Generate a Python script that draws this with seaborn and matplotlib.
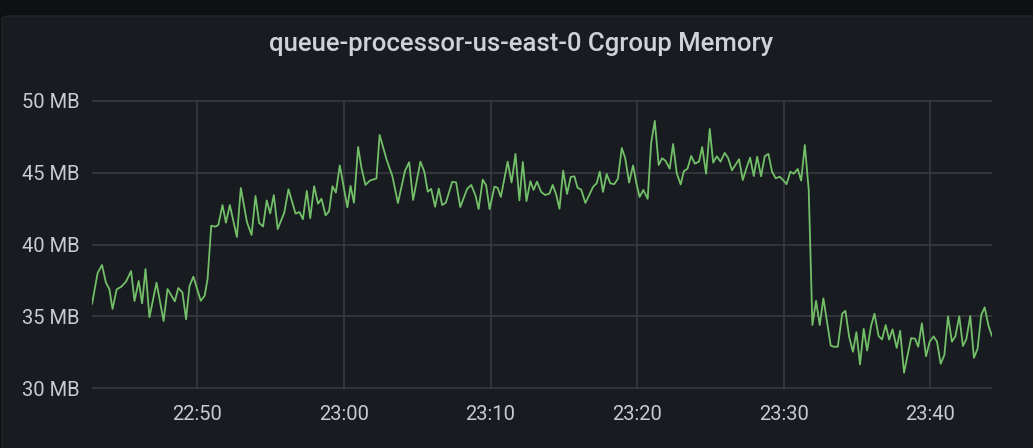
import pandas as pd
import seaborn as sns
import matplotlib.pyplot as plt
import matplotlib.dates as mdates
from matplotlib.patches import FancyBboxPatch

# seconds after 22:40:00 for each sample
seconds = [
    169, 192, 210, 226, 240, 253, 270, 289, 308, 329, 343, 360, 374, 388, 404,
    433, 462, 478, 508, 522, 539, 554, 568, 584, 614, 630, 642, 657, 674, 686,
    703, 717, 733, 762, 778, 803, 822, 838, 853, 869, 884, 898, 913, 929, 956,
    973, 1002, 1018, 1032, 1048, 1062, 1078, 1094, 1108, 1125, 1139, 1153, 1167, 1183, 1214,
    1227, 1241, 1258, 1272, 1288, 1307, 1333, 1346, 1375, 1398, 1421, 1450, 1467, 1483, 1513,
    1529, 1543, 1557, 1573, 1588, 1602, 1617, 1643, 1659, 1676, 1704, 1721, 1739, 1751, 1768,
    1782, 1796, 1816, 1829, 1842, 1870, 1886, 1902, 1918, 1932, 1947, 1963, 1976, 1990, 2007,
    2023, 2041, 2054, 2068, 2082, 2097, 2113, 2128, 2143, 2156, 2171, 2188, 2220, 2234, 2247,
    2260, 2275, 2290, 2306, 2321, 2337, 2351, 2367, 2383, 2397, 2410, 2425, 2443, 2457, 2472,
    2488, 2502, 2516, 2533, 2547, 2562, 2578, 2591, 2606, 2621, 2636, 2653, 2666, 2682, 2697,
    2711, 2726, 2741, 2758, 2772, 2788, 2802, 2817, 2832, 2847, 2862, 2877, 2891, 2907, 2922,
    2937, 2952, 2967, 2983, 2997, 3011, 3027, 3041, 3057, 3071, 3086, 3102, 3117, 3132, 3147,
    3162, 3192, 3204, 3221, 3239, 3252, 3268, 3283, 3297, 3312, 3327, 3341, 3357, 3371, 3388,
    3402, 3417, 3431, 3445, 3462, 3476, 3492, 3521, 3537, 3550, 3565, 3582, 3597, 3613, 3627,
    3642, 3657, 3672, 3688, 3702, 3718, 3733, 3747, 3763, 3778, 3793, 3808, 3822, 3838, 3852,
]

memory_mb = [
    35.85, 38.01, 38.57, 37.34, 36.90, 35.51, 36.88, 37.06, 37.41, 38.15, 36.06, 37.46, 35.90, 38.29, 34.93,
    37.34, 34.67, 36.90, 36.04, 36.97, 36.66, 34.79, 37.11, 37.76, 36.08, 36.43, 37.60, 41.31, 41.24, 41.36,
    42.75, 41.52, 42.75, 40.52, 43.94, 41.57, 40.66, 43.38, 41.50, 41.25, 43.07, 42.17, 43.44, 41.08, 42.23,
    43.85, 42.15, 42.26, 41.76, 43.73, 41.83, 44.06, 42.84, 43.19, 42.03, 42.31, 44.06, 43.62, 45.51, 42.59,
    44.08, 42.91, 46.79, 45.31, 44.15, 44.46, 44.60, 47.63, 45.89, 44.77, 42.89, 45.14, 45.73, 43.10, 45.77,
    45.07, 43.68, 43.87, 42.63, 43.89, 42.75, 42.91, 44.36, 44.33, 42.61, 43.87, 44.15, 43.38, 42.47, 44.52,
    44.11, 42.46, 44.03, 43.95, 43.31, 45.77, 44.32, 46.31, 43.07, 45.75, 43.02, 44.41, 43.80, 44.38, 43.66,
    43.45, 43.54, 44.15, 43.51, 42.49, 45.14, 43.52, 44.70, 44.75, 43.95, 43.82, 42.89, 44.03, 44.26, 45.07,
    43.66, 44.91, 44.26, 44.20, 44.58, 46.72, 46.01, 44.31, 45.51, 44.24, 43.31, 43.80, 43.18, 47.05, 48.61,
    45.54, 46.01, 45.83, 45.28, 47.00, 44.96, 44.18, 45.11, 45.28, 46.17, 45.63, 45.77, 46.79, 44.93, 48.05,
    45.70, 46.15, 45.77, 46.38, 46.03, 45.17, 45.54, 45.94, 44.49, 45.31, 46.05, 44.77, 46.12, 44.75, 46.15,
    46.31, 45.07, 44.61, 44.72, 44.49, 44.20, 45.07, 44.93, 45.26, 44.45, 46.93, 43.80, 34.39, 36.08, 34.39,
    36.25, 32.96, 32.88, 32.88, 35.18, 35.38, 33.52, 32.53, 33.89, 31.64, 34.13, 32.61, 34.33, 35.18, 33.62,
    33.39, 34.39, 33.37, 34.09, 32.80, 33.99, 31.07, 33.48, 33.44, 32.88, 34.51, 32.21, 33.23, 33.60, 33.23,
    31.69, 32.30, 35.00, 33.23, 33.60, 35.00, 32.93, 33.41, 35.02, 32.11, 32.73, 35.09, 35.62, 34.32, 33.62,
]

y_ticks = [30, 35, 40, 45, 50]
title = "queue-processor-us-east-0 Cgroup Memory"

canvas_bg = "#0f1013"
panel_bg = "#181b1f"
grid_col = "#3a3c41"
text_col = "#c9cbd2"
line_col = "#73bf69"

start = pd.Timestamp("2021-03-10 22:40:00")
df = pd.DataFrame({
    "time": start + pd.to_timedelta(seconds, unit="s"),
    "memory": memory_mb,
})

sns.set_theme(style="dark")
plt.rcParams["font.family"] = ["Roboto", "DejaVu Sans"]

fig = plt.figure(figsize=(10.33, 4.48), dpi=100, facecolor=canvas_bg)

# panel background with rounded corner, kept behind the axes
panel = FancyBboxPatch((2 / 1033, -0.1), 1.1, 1 - 16 / 448 + 0.1,
                       boxstyle="round,pad=0,rounding_size=0.008",
                       transform=fig.transFigure, facecolor=panel_bg,
                       edgecolor="#24262b", linewidth=1, zorder=-10)
fig.patches.append(panel)

ax = fig.add_axes([92 / 1033, 1 - 388.5 / 448, 900 / 1033, 288 / 448])
ax.set_zorder(1)
ax.set_facecolor(panel_bg)

sns.lineplot(data=df, x="time", y="memory", ax=ax, color=line_col,
             linewidth=1.3, zorder=3)

ax.set_xlim(df["time"].iloc[0], df["time"].iloc[-1])
ax.set_ylim(29.97, 50.03)
ax.set_yticks(y_ticks)
ax.set_yticklabels([f"{v} MB" for v in y_ticks])

ax.xaxis.set_major_locator(mdates.MinuteLocator(byminute=[0, 10, 20, 30, 40, 50]))
ax.xaxis.set_major_formatter(mdates.DateFormatter("%H:%M"))

ax.grid(True, color=grid_col, linewidth=1.1)
for s in ax.spines.values():
    s.set_visible(False)
ax.tick_params(axis="both", length=0, labelsize=14.5, colors=text_col)
ax.tick_params(axis="y", pad=9)
ax.tick_params(axis="x", pad=12)
ax.set_xlabel("")
ax.set_ylabel("")

fig.text(521 / 1033, 1 - 44 / 448, title, ha="center", va="center",
         fontsize=18.5, color="#d0d2d8", fontweight="medium")

fig.savefig("out.png", dpi=100, facecolor=canvas_bg)
